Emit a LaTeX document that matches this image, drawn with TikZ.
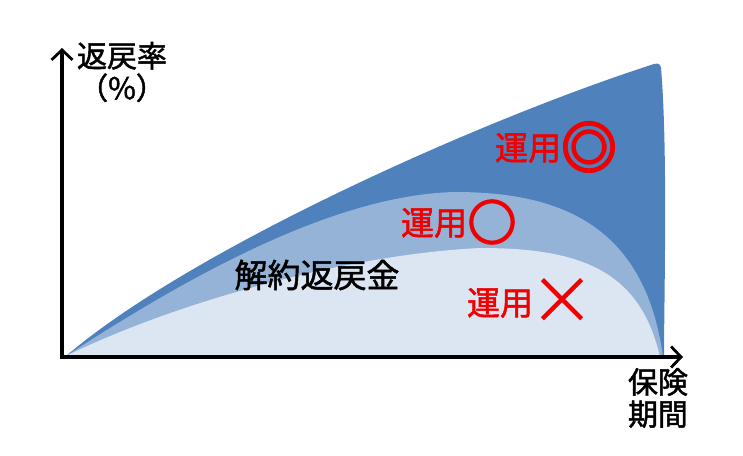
\documentclass[tikz,border=0pt]{standalone}
\usepackage{fontspec}
\newfontfamily\jpfont[FakeBold=1.5]{Noto Sans CJK JP}
\newfontfamily\signfont[FakeBold=5]{Noto Sans CJK JP}
\newfontfamily\crossfont{Noto Sans CJK JP}
\usetikzlibrary{arrows.meta}
\definecolor{darkblue}{HTML}{4F81BD}
\definecolor{midblue}{HTML}{95B3D7}
\definecolor{lightblue}{HTML}{DCE6F2}
\definecolor{labelred}{HTML}{F00000}
\begin{document}
\begin{tikzpicture}[x=1pt, y=-1pt,
    axis/.style = {line width=3.4pt, -{Straight Barb[length=10pt,width=21pt,line width=2.8pt]}},
    blacklabel/.style = {font=\jpfont\fontsize{30}{32}\selectfont, inner sep=0pt, align=center},
    redlabel/.style = {text=labelred, font=\jpfont\fontsize{33}{35}\selectfont, inner sep=0pt},
    mark sign/.style = {text=labelred, inner sep=0pt}]
    \useasboundingbox (0,0) rectangle (743,455);
    \coordinate (O) at (62,357);
    \coordinate (ytip) at (62,48);
    \coordinate (xtip) at (683,357);
    % areas
    \fill [darkblue] (66,356) .. controls (190,250) and (480,120) .. (654,64)
        .. controls (659,63) and (660,64) .. (661,68)
        .. controls (668,150) and (664,300) .. (664,357) -- (66,357) -- cycle;
    \fill [midblue] (66,356) .. controls (180,282) and (330,195) .. (455,192)
        .. controls (560,192) and (645,225) .. (663,357) -- (66,357) -- cycle;
    \fill [lightblue] (66,356) .. controls (170,305) and (340,255) .. (480,248)
        .. controls (580,248) and (640,270) .. (660,357) -- (66,357) -- cycle;
    % axes
    \draw [axis] ([yshift=1.7pt]O) -- (ytip);
    \draw [axis] ([xshift=-1.7pt]O) -- (xtip);
    % labels
    \node [blacklabel] (rate) at (122,72) {返戻率\\（\%）};
    \node [blacklabel] (period) at (658,398) {保険\\期間};
    \node [blacklabel, font=\jpfont\fontsize{33}{35}\selectfont] (refund) at (317,275) {解約返戻金};
    \node [redlabel] (best) at (528,148) {運用};
    \node [mark sign, font=\signfont\fontsize{55}{55}\selectfont] (bestmark) at (589,147) {◎};
    \node [redlabel] (good) at (434,223) {運用};
    \node [mark sign, font=\signfont\fontsize{48}{48}\selectfont] (goodmark) at (492,222) {○};
    \node [redlabel] (bad) at (500,303) {運用};
    \node [mark sign, font=\crossfont\fontsize{66}{66}\selectfont] (badmark) at (562,301) {×};
\end{tikzpicture}
\end{document}
